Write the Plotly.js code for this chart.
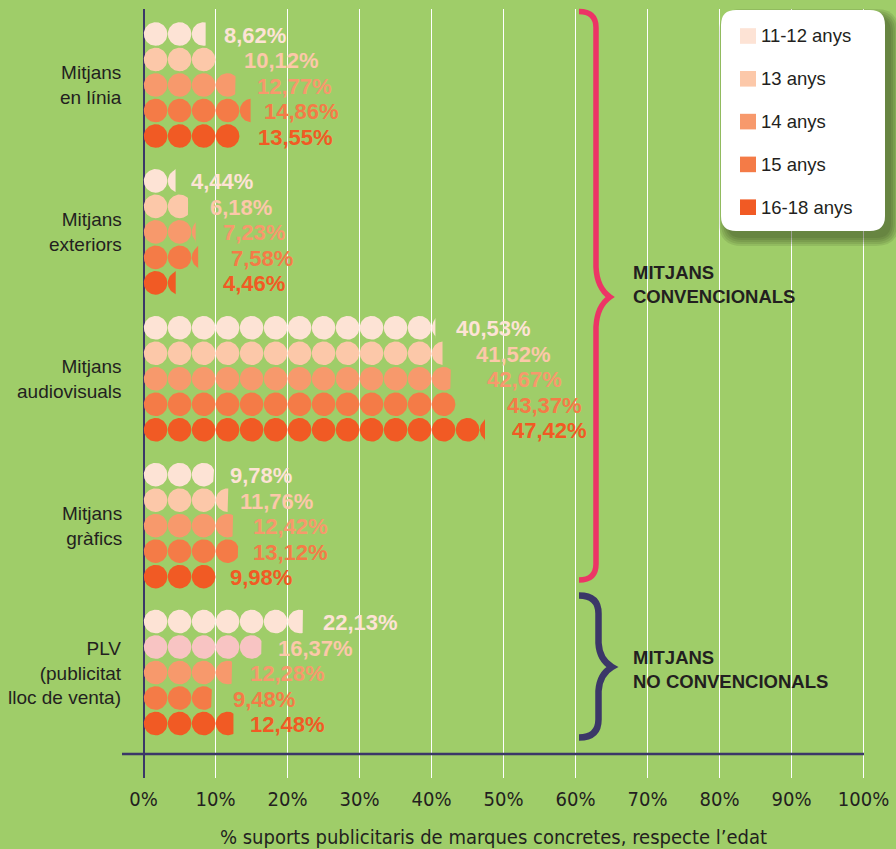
<!DOCTYPE html>
<html>
<head>
<meta charset="utf-8">
<script src="https://cdn.plot.ly/plotly-3.0.1.min.js"></script>
<style>
html,body{margin:0;padding:0;background:#9fcd69;}
#chart{width:896px;height:849px;}
</style>
</head>
<body>
<div id="chart"></div>
<script>
// ---------------- DATA ----------------
const categories = ['Mitjans<br>en línia', 'Mitjans<br>exteriors', 'Mitjans<br>audiovisuals', 'Mitjans<br>gràfics', 'PLV<br>(publicitat<br>lloc de venta)'];
const seriesNames = ['11-12 anys', '13 anys', '14 anys', '15 anys', '16-18 anys'];
const age11_12 = [8.62, 4.44, 40.53, 9.78, 22.13];
const age13    = [10.12, 6.18, 41.52, 11.76, 16.37];
const age14    = [12.77, 7.23, 42.67, 12.42, 12.28];
const age15    = [14.86, 7.58, 43.37, 13.12, 9.48];
const age16_18 = [13.55, 4.46, 47.42, 9.98, 12.48];
const xTickVals = [0, 10, 20, 30, 40, 50, 60, 70, 80, 90, 100];
const xTickText = ['0%', '10%', '20%', '30%', '40%', '50%', '60%', '70%', '80%', '90%', '100%'];
const xTitle = '% suports publicitaris de marques concretes, respecte l’edat';
const bracketLabels = ['MITJANS<br>CONVENCIONALS', 'MITJANS<br>NO CONVENCIONALS'];

const seriesValues = [age11_12, age13, age14, age15, age16_18];

// ---------------- STYLE ----------------
const seriesColors = ['#fde3d5', '#fcc8a9', '#f7996c', '#f47b47', '#f15a24'];
const circleColorOverride = {'4-1': '#f8c4c3'};
// gap (px) between the end of each row and its label, [group][series]
const labelGapPx = [
  [18.5, 27.7, 21.1, 13.6, 16.4],
  [15.3, 21.8, 26.9, 32.7, 47.5],
  [20.5, 33.1, 36.4, 50.7, 26.6],
  [15.9, 11.6, 20.2, 15.1, 14.4],
  [20.3, 16.1, 17.9, 21.3, 16.4]
];
const bg = '#9fcd69';
const navy = '#3b3768';
const pink = '#ec3566';
const textDark = '#231f20';
const sansFont = 'Liberation Sans, Arial, Helvetica, sans-serif';
const narrowFont = 'Liberation Sans Narrow, Arial Narrow, DejaVu Sans Condensed, sans-serif';

// ---------------- GEOMETRY ----------------
const W = 896, H = 849;
const M = {l: 122, r: 31, t: 9, b: 71};
const plotW = W - M.l - M.r, plotH = H - M.t - M.b;
const xRange = [-3, 100.2];
const pxPerX = plotW / (xRange[1] - xRange[0]);
const rowPx = 25.5;          // pixel pitch of one row
const firstRowPx = 34;       // page y of first row centre
const groupStep = 5.76;      // rows per group (incl. gap)
const yTop = (M.t - firstRowPx) / rowPx;
const yBot = (M.t + plotH - firstRowPx) / rowPx;
const circleUnit = 10 / 3;   // % represented by one circle
const circleDiamPx = 23.6;
const minSliverPx = 2.5;

const px2x = px => (px - M.l) / plotW;
const px2y = py => (M.t + plotH - py) / plotH;

function circlePath(value, yc) {
  const rx = circleDiamPx / 2 / pxPerX, ry = circleDiamPx / 2 / rowPx;
  const n = Math.ceil(value / circleUnit - 1e-9);
  const xs = [], ys = [];
  for (let k = 0; k < n; k++) {
    const cx = (k + 0.5) * circleUnit;
    if (value < cx + rx && (value - (cx - rx)) * pxPerX < minSliverPx) continue;
    const N = 72;
    for (let i = 0; i <= N; i++) {
      const t = Math.PI / 2 + 2 * Math.PI * i / N;
      xs.push(Math.min(cx + rx * Math.cos(t), value));
      ys.push(yc + ry * Math.sin(t));
    }
    xs.push(null); ys.push(null);
  }
  return {xs, ys};
}

const fmt = v => v.toFixed(2).replace('.', ',') + '%';

const traces = [];
const annotations = [];
categories.forEach((cat, g) => {
  seriesValues.forEach((vals, s) => {
    const v = vals[g];
    const yc = g * groupStep + s;
    const p = circlePath(v, yc);
    traces.push({
      type: 'scatter', mode: 'lines', x: p.xs, y: p.ys,
      fill: 'toself', fillcolor: circleColorOverride[g + '-' + s] || seriesColors[s],
      line: {width: 0, color: 'rgba(0,0,0,0)'},
      name: seriesNames[s], showlegend: false, hoverinfo: 'skip'
    });
    annotations.push({
      xref: 'x', yref: 'y', x: v + labelGapPx[g][s] / pxPerX, y: yc,
      xanchor: 'left', yanchor: 'middle', xshift: -2, yshift: -1,
      text: fmt(v), showarrow: false,
      font: {family: sansFont, size: 22, color: seriesColors[s], weight: 'bold'}
    });
  });
  annotations.push({
    xref: 'paper', yref: 'y', x: 0, y: g * groupStep + 2,
    xanchor: 'right', yanchor: 'middle', xshift: 2, align: 'right',
    text: cat, showarrow: false,
    font: {family: sansFont, size: 19, color: textDark}
  });
});

// ---------------- SHAPES ----------------
const shapes = [];
function rrPath(x0, y0, x1, y1, r) {
  const P = (x, y) => px2x(x) + ',' + px2y(y);
  return 'M' + P(x0 + r, y0) + ' L' + P(x1 - r, y0) + ' Q' + P(x1, y0) + ' ' + P(x1, y0 + r) +
    ' L' + P(x1, y1 - r) + ' Q' + P(x1, y1) + ' ' + P(x1 - r, y1) +
    ' L' + P(x0 + r, y1) + ' Q' + P(x0, y1) + ' ' + P(x0, y1 - r) +
    ' L' + P(x0, y0 + r) + ' Q' + P(x0, y0) + ' ' + P(x0 + r, y0) + ' Z';
}
function bracePath(xe, y0, y1, xv, xt, yt, r, s) {
  const P = (x, y) => px2x(x) + ',' + px2y(y);
  return 'M' + P(xe, y0) + ' Q' + P(xv, y0) + ' ' + P(xv, y0 + r) +
    ' L' + P(xv, yt - s) + ' Q' + P(xv + 1, yt - 0.3 * s) + ' ' + P(xt, yt) +
    ' Q' + P(xv + 1, yt + 0.3 * s) + ' ' + P(xv, yt + s) +
    ' L' + P(xv, y1 - r) + ' Q' + P(xv, y1) + ' ' + P(xe, y1);
}

// bottom axis line
shapes.push({type: 'line', xref: 'paper', yref: 'paper', x0: 0, x1: px2x(864), y0: px2y(754), y1: px2y(754),
  line: {color: navy, width: 2.5}});

// braces
shapes.push({type: 'path', xref: 'paper', yref: 'paper', path: bracePath(579, 11.5, 580, 596, 610, 297, 16, 30),
  line: {color: pink, width: 5.5}, fillcolor: 'rgba(0,0,0,0)'});
shapes.push({type: 'path', xref: 'paper', yref: 'paper', path: bracePath(579, 595.5, 737.5, 598.5, 612, 667, 18, 24),
  line: {color: navy, width: 6.5}, fillcolor: 'rgba(0,0,0,0)'});

// legend shadow + box
const LB = {x0: 721, y0: 10, x1: 885, y1: 231, r: 15};
for (let e = 0; e <= 8; e += 2) {
  shapes.push({type: 'path', xref: 'paper', yref: 'paper',
    path: rrPath(LB.x0 + 6 - e, LB.y0 + 7 - e, LB.x1 + 6 + e, LB.y1 + 7 + e, LB.r + e),
    fillcolor: 'rgba(35,50,20,0.11)', line: {width: 0}});
}
shapes.push({type: 'path', xref: 'paper', yref: 'paper', path: rrPath(LB.x0, LB.y0, LB.x1, LB.y1, LB.r),
  fillcolor: '#ffffff', line: {width: 0}});
seriesNames.forEach((nm, s) => {
  const yc = 36 + s * 42.8;
  shapes.push({type: 'rect', xref: 'paper', yref: 'paper',
    x0: px2x(740), x1: px2x(756), y0: px2y(yc - 7.8), y1: px2y(yc + 7.8),
    fillcolor: seriesColors[s], line: {width: 0}});
  annotations.push({xref: 'paper', yref: 'paper', x: px2x(761), y: px2y(yc),
    xanchor: 'left', yanchor: 'middle', xshift: -2, text: nm, showarrow: false,
    font: {family: sansFont, size: 18.5, color: textDark}});
});

// bracket labels
[[284, bracketLabels[0]], [669.5, bracketLabels[1]]].forEach(([yc, t]) => {
  annotations.push({xref: 'paper', yref: 'paper', x: px2x(633), y: px2y(yc),
    xanchor: 'left', yanchor: 'middle', align: 'left', xshift: -2, text: t, showarrow: false,
    font: {family: sansFont, size: 18.5, color: textDark, weight: 'bold'}});
});

const layout = {
  width: W, height: H,
  margin: M,
  paper_bgcolor: bg, plot_bgcolor: bg,
  showlegend: false,
  xaxis: {
    range: xRange, tickvals: xTickVals, ticktext: xTickText,
    showgrid: true, gridcolor: '#ffffff', gridwidth: 1.5,
    zeroline: true, zerolinecolor: navy, zerolinewidth: 2,
    showline: false, ticks: '', ticklabelstandoff: 7,
    tickfont: {family: narrowFont, size: 20, color: textDark},
    title: {text: xTitle, font: {family: narrowFont, size: 20, color: textDark}, standoff: 20},
    fixedrange: true
  },
  yaxis: {
    range: [yBot, yTop], showgrid: false, zeroline: false, showticklabels: false,
    showline: false, ticks: '', fixedrange: true
  },
  shapes: shapes,
  annotations: annotations
};

Plotly.newPlot('chart', traces, layout, {displayModeBar: false, staticPlot: true});
</script>
</body>
</html>
